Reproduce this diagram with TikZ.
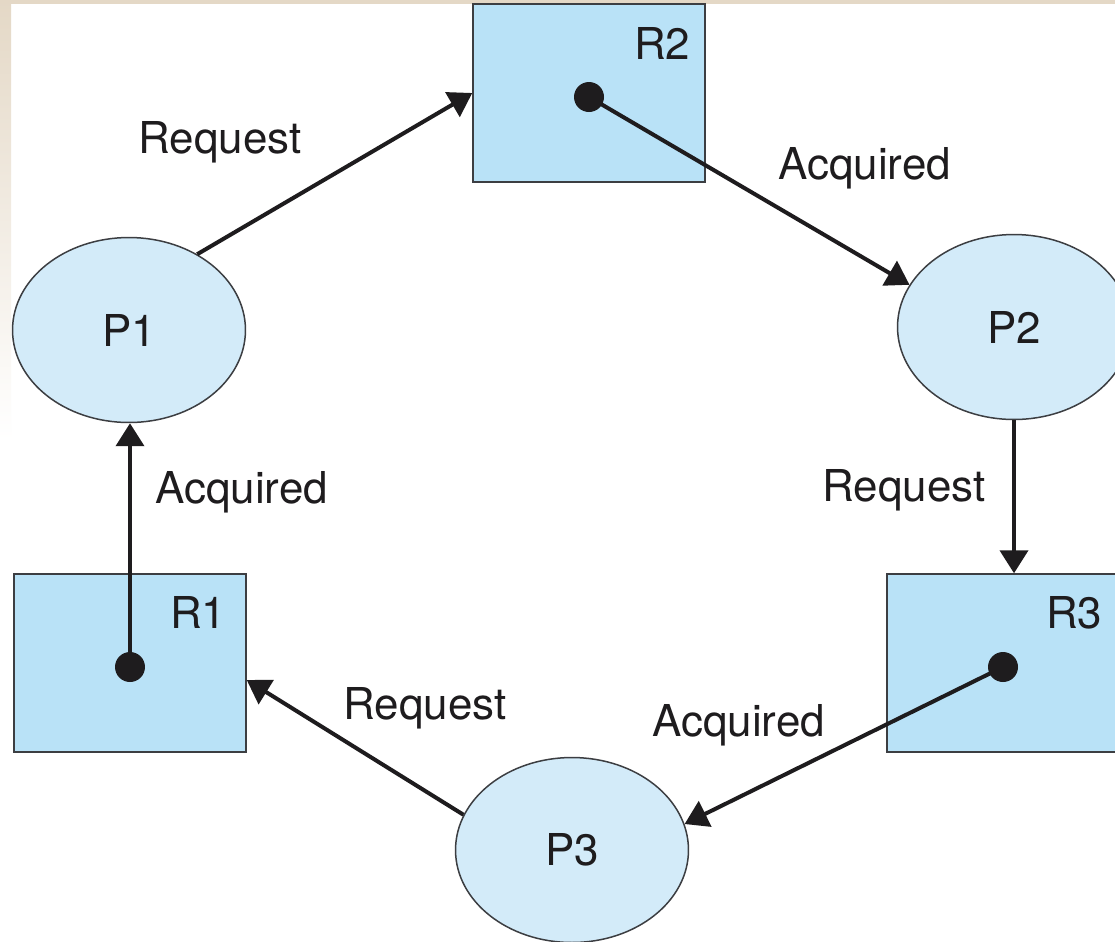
\documentclass[tikz,border=0pt]{standalone}
\usepackage{fontspec}
\setmainfont{TeX Gyre Heros}
\usetikzlibrary{shapes.geometric,arrows.meta,calc}
\definecolor{boxfill}{RGB}{185,226,247}
\definecolor{procfill}{RGB}{211,235,249}
\definecolor{edge}{RGB}{60,62,66}
\definecolor{ink}{RGB}{30,28,30}
\definecolor{beige}{RGB}{228,216,198}
\begin{document}
\begin{tikzpicture}[x=0.02cm,y=-0.02cm,
  txt/.style={font=\fontsize{25}{30}\selectfont,text=ink},
  proc/.style={ellipse,draw=edge,line width=0.03cm,fill=procfill,minimum width=4.66cm,minimum height=3.7cm,inner sep=0pt,txt},
  res/.style={rectangle,draw=edge,line width=0.03cm,fill=boxfill,minimum width=4.64cm,minimum height=3.56cm,inner sep=0pt},
  dotnode/.style={circle,fill=ink,inner sep=0pt,minimum size=0.6cm},
  conn/.style={line width=0.08cm,draw=ink,-{Triangle[length=0.46cm,width=0.56cm]}},
  lbl/.style={txt,inner sep=0pt,anchor=base west},
  rlbl/.style={txt,inner sep=0pt,anchor=base east}]
\useasboundingbox (0,0) rectangle (1115,941);
\clip (0,0) rectangle (1115,941);
\fill[white] (0,0) rectangle (1115,941);
\shade[top color=beige, bottom color=white] (0,0) rectangle (11,440);
\fill[beige] (0,0) rectangle (1115,4);
% resources
\node[res] (R2) at (589,93) {};
\node[res] (R1) at (130,663) {};
\node[res] (R3) at (1003,663) {};
% processes
\node[proc] (P1) at (129,330) {P1};
\node[proc] (P2) at (1014,327) {P2};
\node[proc] (P3) at (572,850) {P3};
% dots
\node[dotnode] (d2) at (589,97) {};
\node[dotnode] (d1) at (130,667) {};
\node[dotnode] (d3) at (1003,667) {};
% resource labels
\node[rlbl] (r2l) at ($(R2.north east)+(-15,56)$) {R2};
\node[rlbl] (r1l) at ($(R1.north east)+(-20,55)$) {R1};
\node[rlbl] (r3l) at ($(R3.north east)+(-17,55)$) {R3};
% connectors
\draw[conn] (P1.48) -- (R2.west);
\draw[conn] (d2.center) -- (P2.158);
\draw[conn] (P2.south) -- (P2.south |- R3.north);
\draw[conn] (d3.center) -- (P3.13);
\draw[conn] (P3.162) -- ($(R1.east)+(0,17)$);
\draw[conn] (d1.center) -- (d1 |- P1.south);
% edge labels
\node[lbl] (l1) at (138,153) {Request};
\node[lbl] (l2) at (778,179) {Acquired};
\node[lbl] (l3) at (822,501) {Request};
\node[lbl] (l4) at (155,503) {Acquired};
\node[lbl] (l5) at (343,719) {Request};
\node[lbl] (l6) at (652,736) {Acquired};
\end{tikzpicture}
\end{document}
